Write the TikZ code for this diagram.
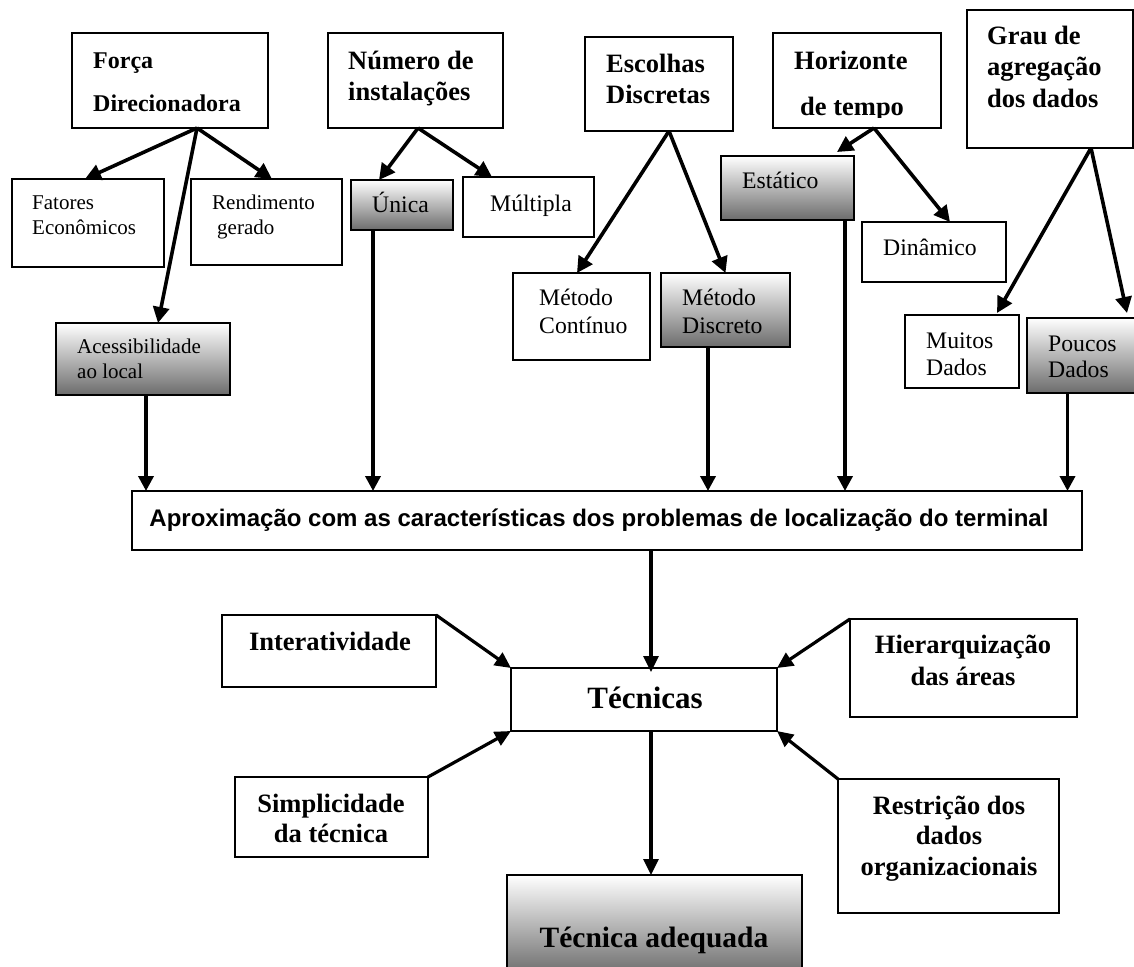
\documentclass[tikz,border=0pt]{standalone}
\usepackage{fontspec}
\setmainfont{Liberation Serif}
\newfontfamily\arialfont{Liberation Sans}
\usetikzlibrary{arrows.meta}
\definecolor{shadegray}{RGB}{108,108,108}
\begin{document}
\begin{tikzpicture}[x=1pt,y=-1pt,
  box/.style={draw, line width=1.8pt, inner sep=0pt, outer sep=0pt, anchor=north west},
  shadedbox/.style={box, top color=white, bottom color=shadegray},
  lbl/.style={inner sep=0pt, anchor=base west},
  clbl/.style={inner sep=0pt, anchor=base},
  headbf/.style={lbl, font=\fontsize{26.5}{30}\selectfont\bfseries},
  forcabf/.style={lbl, font=\fontsize{24}{28}\selectfont\bfseries},
  smallrm/.style={lbl, font=\fontsize{21}{25}\selectfont},
  midrm/.style={lbl, font=\fontsize{23.7}{27}\selectfont},
  lowbf/.style={clbl, font=\fontsize{26.5}{30}\selectfont\bfseries},
  arialbf/.style={clbl, font=\fontsize{24}{28}\selectfont\arialfont\bfseries},
  topar/.style={line width=3.6pt, -{Triangle[length=16pt,width=16pt]}},
  downar/.style={line width=3.6pt, -{Triangle[length=15pt,width=15pt]}},
  lowar/.style={line width=3.2pt, -{Triangle[length=16pt,width=15pt]}},
]
\clip (0,0) rectangle (1134,966);

% ---- first level: criteria ----
\node[box, minimum width=196pt, minimum height=95pt] (forca) at (72,33) {};
\node[forcabf] (forcaA) at (93,68) {Força};
\node[forcabf] (forcaB) at (93,111) {Direcionadora};

\node[box, minimum width=175pt, minimum height=95pt] (numero) at (328,33) {};
\node[headbf] (numeroA) at (348,70) {Número de};
\node[headbf] (numeroB) at (348,100) {instalações};

\node[box, minimum width=148pt, minimum height=94pt] (escolhas) at (585,37) {};
\node[headbf] (escolhasA) at (606,72) {Escolhas};
\node[headbf] (escolhasB) at (606,103) {Discretas};

\node[box, minimum width=168pt, minimum height=95pt] (horiz) at (773,33) {};
\node[headbf] (horizA) at (794,70) {Horizonte};
\begin{scope}
  \clip (773,33) rectangle (941,117);
  \node[headbf] (horizB) at (800,115) {de tempo};
\end{scope}

\node[box, minimum width=166pt, minimum height=138pt] (grau) at (967,10) {};
\node[headbf] (grauA) at (987,45) {Grau de};
\node[headbf] (grauB) at (987,75) {agregação};
\node[headbf] (grauC) at (987,107) {dos dados};

% ---- second level: options ----
\node[box, minimum width=152pt, minimum height=88pt] (fatores) at (12,179) {};
\node[smallrm] (fatoresA) at (32,209) {Fatores};
\node[smallrm] (fatoresB) at (32,234) {Econômicos};

\node[box, minimum width=151pt, minimum height=86pt] (rend) at (191,179) {};
\node[smallrm] (rendA) at (212,209) {Rendimento};
\node[smallrm] (rendB) at (217,234) {gerado};

\node[shadedbox, minimum width=174pt, minimum height=72pt] (acess) at (56,323) {};
\node[smallrm] (acessA) at (77,353) {Acessibilidade};
\node[smallrm] (acessB) at (77,378) {ao local};

\node[shadedbox, minimum width=102pt, minimum height=50pt] (unica) at (351,180) {};
\node[midrm] (unicaA) at (372,212) {Única};

\node[box, minimum width=131pt, minimum height=60pt] (multipla) at (463,177) {};
\node[midrm] (multiplaA) at (490,211) {Múltipla};

\node[box, minimum width=137pt, minimum height=87pt] (continuo) at (513,273) {};
\node[midrm] (continuoA) at (539,305) {Método};
\node[midrm] (continuoB) at (539,333) {Contínuo};

\node[shadedbox, minimum width=129pt, minimum height=74pt] (discreto) at (661,273) {};
\node[midrm] (discretoA) at (682,305) {Método};
\node[midrm] (discretoB) at (682,333) {Discreto};

\node[shadedbox, minimum width=133pt, minimum height=64pt] (estatico) at (721,156) {};
\node[midrm] (estaticoA) at (742,188) {Estático};

\node[box, minimum width=144pt, minimum height=60pt] (dinamico) at (862,222) {};
\node[midrm] (dinamicoA) at (883,255) {Dinâmico};

\node[box, minimum width=114pt, minimum height=73pt] (muitos) at (905,315) {};
\node[midrm] (muitosA) at (926,348) {Muitos};
\node[midrm] (muitosB) at (926,375) {Dados};

\node[shadedbox, minimum width=118pt, minimum height=75pt] (poucos) at (1027,318) {};
\node[midrm] (poucosA) at (1048,351) {Poucos};
\node[midrm] (poucosB) at (1048,377) {Dados};

% ---- synthesis ----
\node[box, minimum width=950pt, minimum height=59pt] (aprox) at (132,491) {};
\node[arialbf] (aproxA) at (599,526) {Aproximação com as características dos problemas de localização do terminal};

\node[box, minimum width=266pt, minimum height=63pt] (tecnicas) at (511,668) {};
\node[clbl, font=\fontsize{31}{35}\selectfont\bfseries] (tecnicasA) at (645,708) {Técnicas};

\node[box, minimum width=214pt, minimum height=72pt] (inter) at (222,615) {};
\node[lowbf] (interA) at (330,650) {Interatividade};

\node[box, minimum width=227pt, minimum height=98pt] (hier) at (850,619) {};
\node[lowbf] (hierA) at (963,653) {Hierarquização};
\node[lowbf] (hierB) at (963,685) {das áreas};

\node[box, minimum width=193pt, minimum height=80pt] (simpl) at (235,777) {};
\node[lowbf] (simplA) at (331,812) {Simplicidade};
\node[lowbf] (simplB) at (331,842) {da técnica};

\node[box, minimum width=221pt, minimum height=134pt] (restr) at (838,779) {};
\node[lowbf] (restrA) at (949,814) {Restrição dos};
\node[lowbf] (restrB) at (949,844) {dados};
\node[lowbf] (restrC) at (949,875) {organizacionais};

\node[shadedbox, minimum width=295pt, minimum height=100pt] (adequada) at (507,875) {};
\node[clbl, font=\fontsize{29.5}{34}\selectfont\bfseries] (adequadaA) at (654,947) {Técnica adequada};

% ---- connectors: criteria to options ----
\draw[topar] ([xshift=27pt]forca.south) -- ([xshift=-3pt]fatores.north);
\draw[topar] ([xshift=27pt]forca.south) -- ([xshift=5.5pt]rend.north);
\draw[topar] ([xshift=27pt]forca.south) -- ([xshift=15pt]acess.north);

\draw[topar] ([xshift=2.5pt]numero.south) -- ([xshift=-23pt]unica.north);
\draw[topar] ([xshift=2.5pt]numero.south) -- ([xshift=-36.5pt]multipla.north);

\draw[topar] ([xshift=10pt]escolhas.south) -- ([xshift=-4.5pt]continuo.north);
\draw[topar] ([xshift=10pt]escolhas.south) -- (discreto.north);

\draw[topar] ([xshift=17pt]horiz.south) -- ([xshift=49.5pt,yshift=4pt]estatico.north);
\draw[topar] ([xshift=17pt]horiz.south) -- ([xshift=16pt]dinamico.north);

\draw[topar] ([xshift=41pt]grau.south) -- ([xshift=35pt,yshift=2pt]muitos.north);
\draw[topar] ([xshift=41pt]grau.south) -- ([xshift=41pt,yshift=5pt]poucos.north);

% ---- connectors: chosen options to the synthesis box ----
\coordinate (acessOut) at ([xshift=3pt]acess.south);
\coordinate (unicaOut) at ([xshift=-29pt]unica.south);
\coordinate (discretoOut) at ([xshift=-17.5pt]discreto.south);
\coordinate (estaticoOut) at ([xshift=57.5pt]estatico.south);
\coordinate (poucosOut) at ([xshift=-18.5pt]poucos.south);
\foreach \src in {acessOut,unicaOut,discretoOut,estaticoOut,poucosOut}
  \draw[downar] (\src) -- (\src |- aprox.north);

% ---- connectors: lower part ----
\draw[lowar] ([xshift=44pt]aprox.south) -- ([xshift=7pt,yshift=-4pt]tecnicas.north);
\draw[lowar] ([xshift=7pt]tecnicas.south) -- ([xshift=-3.5pt]adequada.north);
\draw[lowar] (inter.north east) -- (tecnicas.north west);
\draw[lowar] (hier.north west) -- (tecnicas.north east);
\draw[lowar] (simpl.north east) -- (tecnicas.south west);
\draw[lowar] (restr.north west) -- (tecnicas.south east);
\end{tikzpicture}
\end{document}
